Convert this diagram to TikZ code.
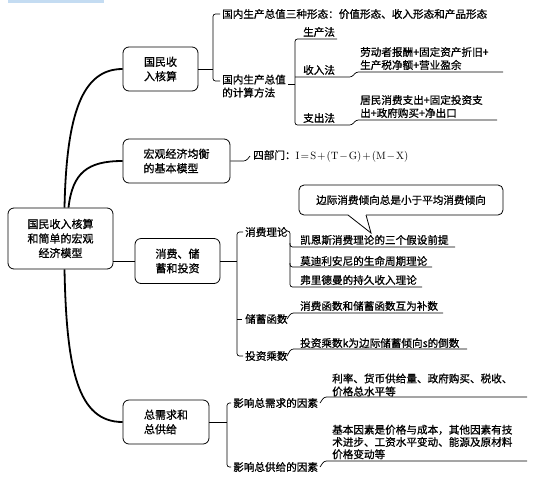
\documentclass[tikz,border=0pt]{standalone}
\usepackage{fontspec}
\newfontfamily\cjk[FakeBold=0.9]{Noto Sans CJK SC}
\usetikzlibrary{positioning}
\definecolor{scanblue}{HTML}{C4DCF2}
\tikzset{
  topic/.style={draw, line width=0.8pt, rounded corners=6pt, align=left,
    font=\cjk\fontsize{11}{14.5}\selectfont, inner sep=2pt},
  leaf/.style={anchor=west, inner sep=0pt, align=left,
    font=\cjk\fontsize{10.6}{13}\selectfont},
  trunk/.style={line width=1.8pt},
  twig/.style={line width=0.7pt, rounded corners=2.5pt},
}

\begin{document}
\begin{tikzpicture}[x=1pt,y=-1pt]
  \useasboundingbox (0,0) rectangle (556,477);
  \fill[scanblue] (8,0) rectangle (104,2.5);

  % main topics
  \node[topic, align=center, minimum width=105, minimum height=61] (root) at (60.5,238.5)
    {国民收入核算\\和简单的宏观\\经济模型};
  \node[topic, minimum width=75, minimum height=44] (acct) at (160.5,69) {国民收\\入核算};
  \node[topic, minimum width=107, minimum height=44] (model) at (176.5,161) {宏观经济均衡\\的基本模型};
  \node[topic, minimum width=85, minimum height=45] (cons) at (177.5,261) {消费、储\\蓄和投资};
  \node[topic, minimum width=86, minimum height=44] (agg) at (166,422) {总需求和\\总供给};

  % trunk curves
  \draw[trunk] ([xshift=4]root.north) .. controls +(2,-95) and +(-40,0) .. (acct.west);
  \draw[trunk] ([xshift=8]root.north) .. controls +(4,-35) and +(-35,0) .. (model.west);
  \draw[line width=1pt] (root.east |- cons.west) -- (cons.west);
  \draw[trunk] ([xshift=4]root.south) .. controls +(2,100) and +(-45,0) .. (agg.west);

  % national income accounting
  \node[leaf] (gdp1) at (222,14) {国内生产总值三种形态：价值形态、收入形态和产品形态};
  \node[leaf, anchor=north west] (gdp2) at (222,74.5) {国内生产总值\\的计算方法};
  \node[leaf] (prod) at (303,32) {生产法};
  \node[leaf] (inc) at (303,70) {收入法};
  \node[leaf] (exp) at (303,118) {支出法};
  \node[leaf] (incd) at (360,58.5) {劳动者报酬+固定资产折旧+\\生产税净额+营业盈余};
  \node[leaf] (expd) at (360,106.5) {居民消费支出+固定投资支\\出+政府购买+净出口};
  \draw[twig] (acct.east) -- (213,69);
  \draw[twig] (220,14) -| (213,81) -- (220,81);
  \draw[twig] (288,84) -- (295,84);
  \draw[twig] (337,39) -- (295,39) -- (295,125) -- (352,125) -- (356,120) -- (497,120);
  \draw[twig] (295,77) -- (352,77) -- (356,72) -- (503,72);

  % macro equilibrium
  \node[leaf] (four) at (253,156)
    {四部门：$\medmuskip=1.5mu\thickmuskip=2mu
      \mathrm{I}=\mathrm{S}+(\mathrm{T}-\mathrm{G})+(\mathrm{M}-\mathrm{X})$};
  \draw[twig] (model.east) -- (246,161) -- (250,156);

  % consumption, saving, investment
  \node[draw, line width=0.8pt, rounded corners=5pt, minimum width=204, minimum height=30,
    font=\cjk\fontsize{10.6}{13}\selectfont] (note) at (401,200) {边际消费倾向总是小于平均消费倾向};
  \fill[white] (348,213) rectangle (366,217);
  \draw[line width=0.8pt] (348,215) -- (371,233) -- (366,215);
  \node[leaf] (theory) at (245,232) {消费理论};
  \node[leaf] (keynes) at (300,240) {凯恩斯消费理论的三个假设前提};
  \node[leaf] (modig) at (300,261) {莫迪利安尼的生命周期理论};
  \node[leaf] (fried) at (300,280) {弗里德曼的持久收入理论};
  \node[leaf] (save) at (245,319) {储蓄函数};
  \node[leaf] (saved) at (300,306) {消费函数和储蓄函数互为补数};
  \node[leaf] (mult) at (245,356) {投资乘数};
  \node[leaf] (multd) at (300,343) {投资乘数k为边际储蓄倾向s的倒数};
  \draw[twig] (cons.east) -- (237,261);
  \draw[twig] (243,232) -| (237,356) -- (243,356);
  \draw[twig] (237,319) -- (242,319);
  \draw[twig] (286,231) -- (290,231) -- (290,287) -- (422,287);
  \draw[twig] (290,243) |- (455,247);
  \draw[twig] (290,263) |- (432,267);
  \draw[twig] (287,319) -- (291,313) -- (443,313);
  \draw[twig] (287,356) -- (291,349) -- (467,349);

  % aggregate demand and supply
  \node[leaf] (dem) at (233,403) {影响总需求的因素};
  \node[leaf] (demd) at (332,385) {利率、货币供给量、政府购买、税收、\\价格总水平等};
  \node[leaf] (sup) at (233,467) {影响总供给的因素};
  \node[leaf, font=\cjk\fontsize{10.6}{12.3}\selectfont] (supd) at (332,442)
    {基本因素是价格与成本，其他因素有技\\术进步、工资水平变动、能源及原材料\\价格变动等};
  \draw[twig] (agg.east) -- (227,422);
  \draw[twig] (231,403) -| (227,467) -- (231,467);
  \draw[twig] (320,403) -- (324,397) -- (527,397);
  \draw[twig] (320,467) -- (324,461) -- (527,461);
\end{tikzpicture}
\end{document}
